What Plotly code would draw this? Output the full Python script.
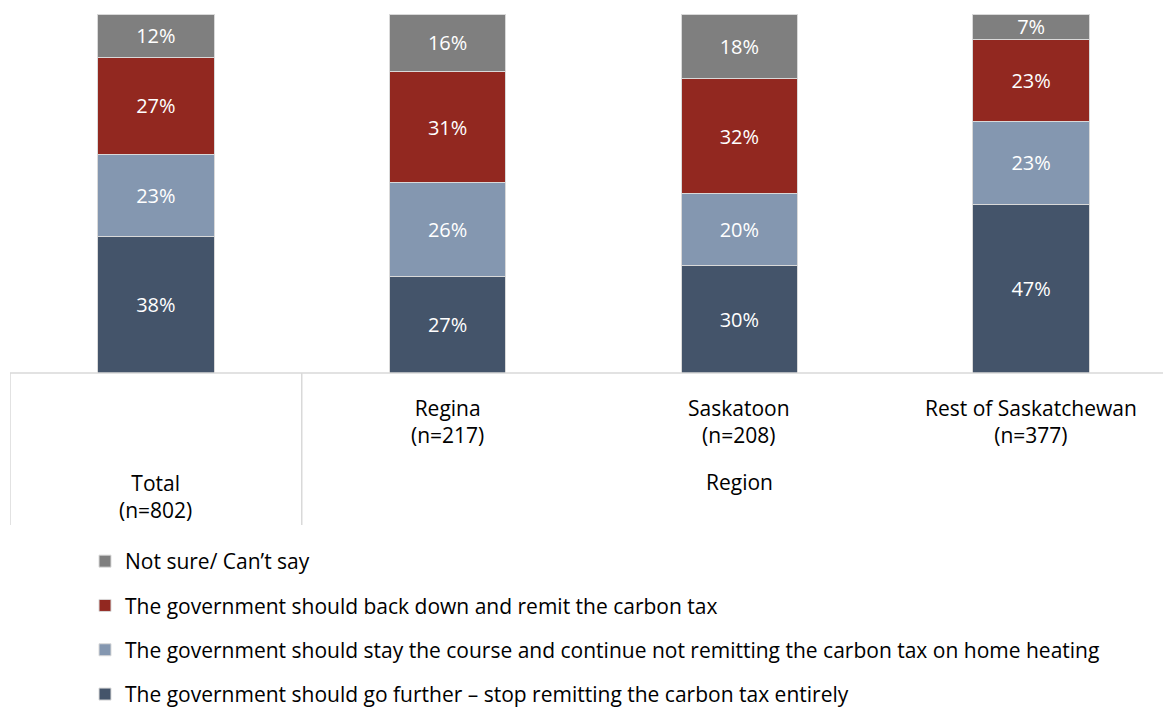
import plotly.graph_objects as go

categories = ["Total", "Regina", "Saskatoon", "Rest of Saskatchewan"]
cat_labels = ["Total<br>(n=802)", "Regina<br>(n=217)", "Saskatoon<br>(n=208)", "Rest of Saskatchewan<br>(n=377)"]
go_further = [38, 27, 30, 47]
stay_course = [23, 26, 20, 23]
back_down = [27, 31, 32, 23]
not_sure = [12, 16, 18, 7]

series = [
    ("The government should go further \u2013 stop remitting the carbon tax entirely", go_further, "#44546A", 4),
    ("The government should stay the course and continue not remitting the carbon tax on home heating", stay_course, "#8497B0", 3),
    ("The government should back down and remit the carbon tax", back_down, "#922820", 2),
    ("Not sure/ Can\u2019t say", not_sure, "#7F7F7F", 1),
]

FONT = "'Open Sans', Lato, sans-serif"
FS = 20
FL = 21
xs = list(range(len(categories)))

fig = go.Figure()
for i, (name, vals, color, rank) in enumerate(series):
    fig.add_trace(go.Bar(
        x=xs, y=vals, name=name, legendgroup=str(i), legendrank=rank,
        marker=dict(color=color, line=dict(color="#D9D9D9", width=1)),
        width=0.4,
        texttemplate="%{y}%", textposition="inside", insidetextanchor="middle",
        constraintext="none",
        textfont=dict(color="white", size=FS, family=FONT),
        hoverinfo="skip",
    ))

# plot area: y from 14 to 373 px
H = 359.0
def py(pix):
    return (373 - pix) / H

fig.update_layout(
    width=1163, height=707,
    barmode="stack",
    margin=dict(l=10, r=0, t=14, b=334, autoexpand=False),
    paper_bgcolor="white", plot_bgcolor="white",
    font=dict(family=FONT, size=FL, color="black"),
    xaxis=dict(range=[-0.5, 3.452], showticklabels=False, showgrid=False, zeroline=False, showline=False, fixedrange=True),
    yaxis=dict(range=[0, 100], showticklabels=False, showgrid=False, zeroline=False, showline=False, fixedrange=True),
    showlegend=True,
    legend=dict(
        orientation="v", traceorder="grouped", tracegroupgap=14,
        x=(85 - 10) / 1153.0, xanchor="left",
        y=py(541), yanchor="top",
        font=dict(size=FL, family=FONT, color="black"),
        bgcolor="rgba(0,0,0,0)",
    ),
)

# axis line and category separators
fig.add_shape(type="line", xref="paper", yref="paper", x0=0, x1=1, y0=0, y1=0,
              line=dict(color="#D9D9D9", width=1.5))
for xv in [-0.5, 0.5]:
    fig.add_shape(type="line", xref="x", yref="paper", x0=xv, x1=xv, y0=0, y1=py(525),
                  line=dict(color="#D9D9D9", width=1.5))

# category labels
fig.add_annotation(x=0, y=py(496), xref="x", yref="paper", text=cat_labels[0], showarrow=False,
                   font=dict(size=FL, family=FONT), yanchor="middle")
for i in range(1, 4):
    fig.add_annotation(x=i, y=py(421), xref="x", yref="paper", text=cat_labels[i], showarrow=False,
                       font=dict(size=FL, family=FONT), yanchor="middle")
fig.add_annotation(x=2, y=py(482), xref="x", yref="paper", text="Region", showarrow=False,
                   font=dict(size=FL, family=FONT), yanchor="middle")

fig.write_html("out.html")
